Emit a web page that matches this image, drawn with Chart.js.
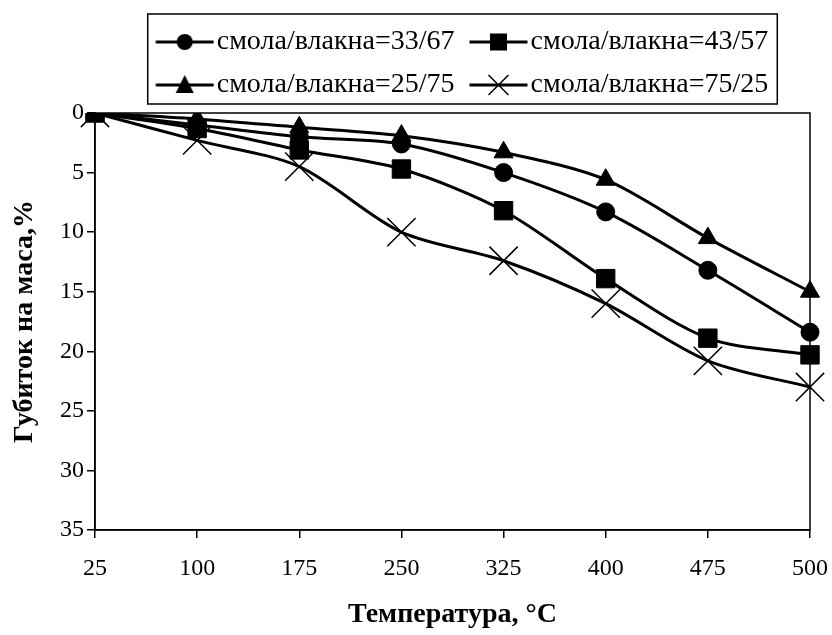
<!DOCTYPE html>
<html>
<head>
<meta charset="utf-8">
<script src="https://cdn.jsdelivr.net/npm/chart.js@4/dist/chart.umd.min.js"></script>
<style>
  html, body { margin: 0; padding: 0; background: #fff; }
  #wrap { width: 832px; height: 635px; }
</style>
</head>
<body>
<div id="wrap"><canvas id="massChart"></canvas></div>
<script>
// температура, °C (категории по оси X)
const temps = ['25', '100', '175', '250', '325', '400', '475', '500'];
// губиток на маса, %
const s33 = [0, 1.0, 2.0, 2.6, 5.0, 8.3, 13.2, 18.4];
const s43 = [0, 1.3, 3.1, 4.7, 8.2, 13.9, 18.9, 20.3];
const s25 = [0, 0.5, 1.2, 1.9, 3.3, 5.6, 10.5, 15.0];
const s75 = [0, 2.3, 4.5, 10.0, 12.4, 16.0, 20.8, 23.0];
const yTicks = [0, 5, 10, 15, 20, 25, 30, 35];

const serif = "'Liberation Serif', 'Times New Roman', serif";

// icon for legend: line with marker in the middle.
// canvas is centred on x+23.5 of the legend box, line runs x..x+58
function legendIcon(style) {
    const c = document.createElement('canvas');
    c.width = 70; c.height = 24;
    const g = c.getContext('2d');
    const cx = 40.5, cy = 12;
    g.strokeStyle = '#000'; g.fillStyle = '#000';
    g.lineWidth = 3;
    g.beginPath(); g.moveTo(11.5, cy); g.lineTo(69.5, cy); g.stroke();
    g.beginPath();
    if (style === 'circle') {
        g.arc(cx, cy, 8, 0, Math.PI * 2); g.fill();
    } else if (style === 'rect') {
        g.fillRect(cx - 8.5, cy - 8.5, 17, 17);
    } else if (style === 'triangle') {
        g.moveTo(cx, cy - 10); g.lineTo(cx + 9, cy + 8); g.lineTo(cx - 9, cy + 8); g.closePath(); g.fill();
    } else {
        g.lineWidth = 1.5;
        g.moveTo(cx - 10, cy - 10); g.lineTo(cx + 10, cy + 10);
        g.moveTo(cx + 10, cy - 10); g.lineTo(cx - 10, cy + 10); g.stroke();
    }
    return c;
}

// two legend items per row, fixed legend height, legend a bit right of centre
const legendFit = {
    id: 'legendFit',
    beforeLayout(chart) {
        const lg = chart.legend;
        if (!lg || lg._patched) return;
        const origUpdate = lg.update.bind(lg);
        lg.update = (mw, mh, margins) => origUpdate(Math.min(mw, 700), mh, margins);
        const origFit = lg.fit.bind(lg);
        lg.fit = () => { origFit(); lg.height = 100; };
        lg._patched = true;
    },
    afterLayout(chart) {
        const lg = chart.legend;
        lg.left = 100;
        lg.right = 824;
        lg.width = lg.right - lg.left;
    }
};

const frame = {
    id: 'frame',
    afterDraw(chart) {
        const { ctx, chartArea: a, legend } = chart;
        ctx.save();
        ctx.strokeStyle = '#000';
        ctx.lineWidth = 1.5;
        ctx.strokeRect(a.left, a.top, a.right - a.left, a.bottom - a.top);
        // border round the legend
        const boxes = legend.legendHitBoxes;
        if (boxes && boxes.length) {
            let l = Infinity, t = Infinity, r = -Infinity, b = -Infinity;
            boxes.forEach(h => {
                l = Math.min(l, h.left); t = Math.min(t, h.top);
                r = Math.max(r, h.left + h.width); b = Math.max(b, h.top + h.height);
            });
            ctx.strokeRect(l - 8, t - 14, r - l + 17, b - t + 19);
        }
        ctx.restore();
    }
};

const mk = (label, data, style, radius, bw) => ({
    label: label,
    data: data,
    borderColor: '#000',
    backgroundColor: '#000',
    borderWidth: 3,
    pointStyle: style,
    pointRadius: radius,
    pointHoverRadius: radius,
    pointBorderWidth: bw,
    pointBorderColor: '#000',
    pointBackgroundColor: '#000',
    tension: 0.3,
    fill: false
});

const ctx = document.getElementById('massChart').getContext('2d');
const massChart = new Chart(ctx, {
    type: 'line',
    data: {
        labels: temps,
        datasets: [
            mk('смола/влакна=33/67', s33, 'circle', 9, 1),
            mk('смола/влакна=43/57', s43, 'rect', 13, 1),
            mk('смола/влакна=25/75', s25, 'triangle', 11, 1),
            mk('смола/влакна=75/25', s75, 'crossRot', 20, 1.5)
        ]
    },
    options: {
        responsive: true,
        maintainAspectRatio: false,
        animation: false,
        layout: { padding: { top: 13, right: 0, left: 0, bottom: 0 } },
        plugins: {
            legend: {
                position: 'top',
                labels: {
                    usePointStyle: true,
                    pointStyleWidth: 47,
                    boxHeight: 24,
                    padding: 15,
                    color: '#000',
                    font: { family: serif, size: 28 },
                    generateLabels(chart) {
                        return chart.data.datasets.map((ds, i) => ({
                            text: ds.label,
                            pointStyle: legendIcon(ds.pointStyle),
                            fontColor: '#000',
                            lineWidth: 0,
                            strokeStyle: '#000',
                            fillStyle: '#000',
                            datasetIndex: i
                        }));
                    }
                }
            },
            tooltip: { enabled: false }
        },
        scales: {
            x: {
                type: 'category',
                offset: false,
                afterFit(scale) {
                    scale.height = 105;
                    scale.paddingLeft = 0;
                    scale.paddingRight = 22;
                },
                grid: { display: true, drawOnChartArea: false, drawTicks: true, tickLength: 8, color: '#000', lineWidth: 1.5 },
                border: { color: '#000', width: 1.5 },
                ticks: { color: '#000', font: { family: serif, size: 24 }, padding: 16, maxRotation: 0 },
                title: {
                    display: true,
                    text: 'Температура, °C',
                    color: '#000',
                    font: { family: serif, size: 28, weight: 'bold' },
                    padding: { top: 4, bottom: 3 }
                }
            },
            y: {
                reverse: true,
                min: 0,
                max: 35,
                afterFit(scale) { scale.width = 95; },
                afterBuildTicks(scale) { scale.ticks = yTicks.map(v => ({ value: v })); },
                grid: { display: true, drawOnChartArea: false, drawTicks: true, tickLength: 8, color: '#000', lineWidth: 1.5 },
                border: { color: '#000', width: 1.5 },
                ticks: { color: '#000', font: { family: serif, size: 24 }, padding: 3 },
                title: {
                    display: true,
                    text: 'Губиток на маса,%',
                    color: '#000',
                    font: { family: serif, size: 28, weight: 'bold' },
                    padding: { top: 8, bottom: 0 }
                }
            }
        }
    },
    plugins: [legendFit, frame]
});
</script>
</body>
</html>
